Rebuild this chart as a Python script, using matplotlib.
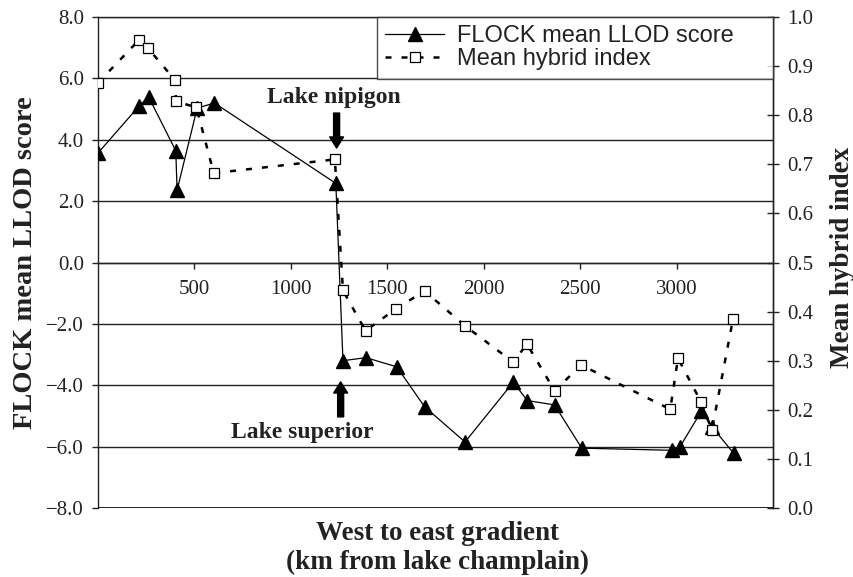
import matplotlib
matplotlib.use("Agg")
import matplotlib.pyplot as plt
from matplotlib.ticker import FuncFormatter

# ---- data ----
llod_km = [0, 213, 262, 403, 410, 514, 603, 1233, 1270, 1389, 1549, 1693, 1903,
           2153, 2226, 2367, 2508, 2976, 3016, 3128, 3183, 3296]
llod_score = [3.57, 5.10, 5.40, 3.64, 2.36, 5.03, 5.20, 2.58, -3.20, -3.10, -3.40,
              -4.70, -5.85, -3.90, -4.50, -4.64, -6.05, -6.12, -6.02, -4.85, -5.35, -6.22]

hyb_km = [0, 212, 260, 398, 405, 510, 600, 1228, 1270, 1387, 1546, 1693, 1903,
          2153, 2224, 2367, 2506, 2967, 3007, 3128, 3183, 3292]
hyb_index = [0.866, 0.953, 0.936, 0.872, 0.828, 0.816, 0.682, 0.710, 0.443, 0.361,
             0.406, 0.442, 0.371, 0.297, 0.334, 0.239, 0.291, 0.201, 0.305, 0.215,
             0.159, 0.384]

x_ticks = [500, 1000, 1500, 2000, 2500, 3000]
left_ticks = [-8, -6, -4, -2, 0, 2, 4, 6, 8]
right_ticks = [0.0, 0.1, 0.2, 0.3, 0.4, 0.5, 0.6, 0.7, 0.8, 0.9, 1.0]

SERIF = ["Liberation Serif", "DejaVu Serif"]
SANS = ["Liberation Sans", "DejaVu Sans"]
INK = "#222222"

fig = plt.figure(figsize=(8.54, 5.77), dpi=100)
ax = fig.add_axes([0.1148, 0.1196, 0.7904, 0.8509])
ax2 = ax.twinx()

ax.set_xlim(0, 3500)
ax.set_ylim(-8, 8)
ax2.set_ylim(0, 1.0)

# grid
ax.set_yticks(left_ticks)
ax.yaxis.grid(True, color=INK, linewidth=1.0)
ax.set_axisbelow(True)

# spines
ax.spines["bottom"].set_position(("data", 0))
for s in ["left", "top", "right", "bottom"]:
    ax.spines[s].set_linewidth(1.0)
    ax.spines[s].set_color(INK)
for s in ["left", "top", "bottom"]:
    ax2.spines[s].set_visible(False)
ax2.spines["right"].set_linewidth(1.0)
ax2.spines["right"].set_color(INK)
ax.axhline(-8, color=INK, linewidth=1.4, zorder=3)

def fmt(v, pos):
    if abs(v) < 1e-9:
        v = 0.0
    return f"{v:.1f}".replace("-", "\u2212")

ax.yaxis.set_major_formatter(FuncFormatter(fmt))
ax.set_xticks(x_ticks)
ax.set_xticklabels([str(t) for t in x_ticks])
ax2.set_yticks(right_ticks)
ax2.yaxis.set_major_formatter(FuncFormatter(fmt))

ax.tick_params(axis="y", direction="out", length=4, width=1, pad=6, labelsize=15,
               colors=INK)
ax.tick_params(axis="x", direction="out", length=4.5, width=1, pad=8, labelsize=15,
               colors=INK)
ax2.tick_params(axis="y", direction="inout", length=8, width=1, pad=6, labelsize=15,
                colors=INK)
for lab in ax.get_xticklabels() + ax.get_yticklabels() + ax2.get_yticklabels():
    lab.set_family(SERIF)
    lab.set_color(INK)

# series
l1, = ax.plot(llod_km, llod_score, color="black", linewidth=0.9, marker="^",
              markersize=9.5, markerfacecolor="black", markeredgecolor="black",
              label="FLOCK mean LLOD score", zorder=4)
l2, = ax2.plot(hyb_km, hyb_index, color="black", linewidth=1.8, linestyle=(0, (2.4, 4.0)),
               marker="s", markersize=7.5, markerfacecolor="white",
               markeredgecolor="black", markeredgewidth=0.9,
               label="Mean hybrid index", zorder=4)

# labels
ax.set_ylabel("FLOCK mean LLOD score", family=SERIF, fontweight="bold", fontsize=20.5,
              labelpad=6, color=INK)
ax2.set_ylabel("Mean hybrid index", family=SERIF, fontweight="bold", fontsize=19.5,
               rotation=90, color=INK)
ax2.yaxis.set_label_coords(1.084, 0.51)
fig.text(0.512, 0.075, "West to east gradient", family=SERIF, fontweight="bold",
         fontsize=19.5, ha="center", va="center", color=INK)
fig.text(0.512, 0.026, "(km from lake champlain)", family=SERIF, fontweight="bold",
         fontsize=19.5, ha="center", va="center", color=INK)

# annotations
arrow = dict(facecolor="black", edgecolor="black", width=4.3, headwidth=10,
             headlength=8, shrink=0)
ax.annotate("", xy=(1237, 3.73), xytext=(1237, 4.87), arrowprops=arrow, zorder=5)
ax.text(1221, 5.39, "Lake nipigon", family=SERIF, fontweight="bold", fontsize=17,
        ha="center", va="center", color=INK)
ax.annotate("", xy=(1258, -3.89), xytext=(1258, -5.03), arrowprops=arrow, zorder=5)
ax.text(1061, -5.55, "Lake superior", family=SERIF, fontweight="bold", fontsize=17,
        ha="center", va="center", color=INK)

# legend
leg = ax2.legend(handles=[l1, l2], loc="upper left",
                 bbox_to_anchor=(0.413, 0.876, 0.587, 0.124), mode="expand",
                 borderaxespad=0, frameon=True, fancybox=False,
                 prop={"family": SANS, "size": 17}, handlelength=2.5,
                 handletextpad=0.55, borderpad=0.35, labelspacing=0.05)
leg.get_frame().set_edgecolor(INK)
leg.get_frame().set_linewidth(1.0)
for t in leg.get_texts():
    t.set_color(INK)

fig.savefig("out.png", dpi=100)
